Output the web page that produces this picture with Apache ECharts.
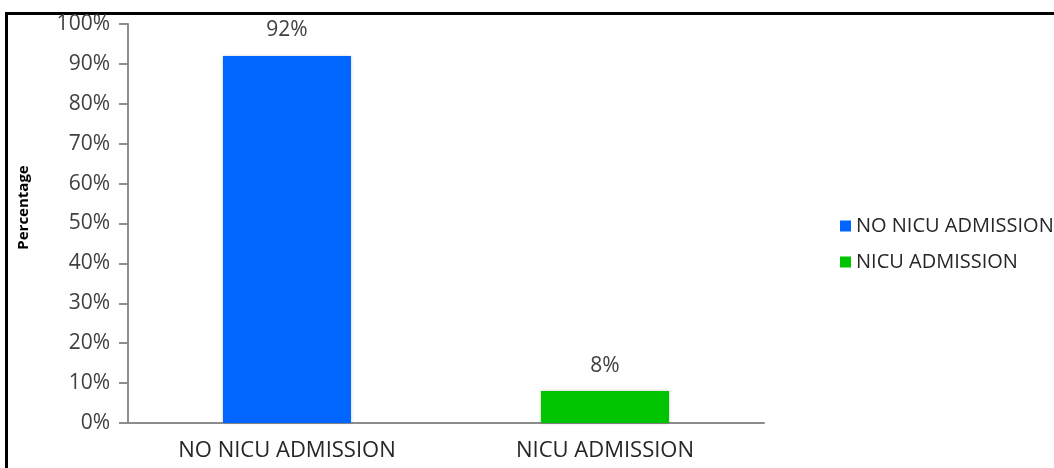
<!DOCTYPE html>
<html>
<head>
<meta charset="utf-8">
<script src="https://cdn.jsdelivr.net/npm/echarts@6/dist/echarts.min.js"></script>
<style>
  html, body { margin: 0; padding: 0; background: #fff; overflow: hidden; }
  #frame {
    position: absolute; left: 5px; top: 12px;
    width: 1100px; height: 500px;
    border: 3px solid #000; box-sizing: border-box;
  }
  #chart { position: absolute; left: 0; top: 0; width: 1054px; height: 468px; }
</style>
</head>
<body>
<div id="frame"></div>
<div id="chart"></div>
<script>
// data
const categories = ['NO NICU ADMISSION', 'NICU ADMISSION']
const seriesNames = ['NO NICU ADMISSION', 'NICU ADMISSION']
const values = [92, 8]
const colors = ['#0066ff', '#00c400']
const yTicks = [0, 10, 20, 30, 40, 50, 60, 70, 80, 90, 100]

const font = 'Open Sans'
const chart = echarts.init(document.getElementById('chart'))

// one series per category so the legend gets both colours
let series = seriesNames.map((name, i) => ({
  name: name,
  type: 'bar',
  barWidth: 128,
  barGap: '-100%',
  itemStyle: {
    color: colors[i],
    shadowColor: 'rgba(0,0,0,0.25)',
    shadowBlur: 3
  },
  label: {
    show: true,
    position: 'top',
    distance: 15,
    formatter: '{c}%',
    color: '#404040',
    fontFamily: font,
    fontSize: 21
  },
  data: categories.map((c, j) => (j === i ? values[i] : '-'))
}))

let option = {
  animation: false,
  color: colors,
  grid: {
    left: 128,
    top: 24,
    width: 636,
    height: 399
  },
  legend: {
    orient: 'vertical',
    left: 835,
    top: 211,
    itemWidth: 11,
    itemHeight: 11,
    itemGap: 16,
    icon: 'rect',
    data: seriesNames,
    textStyle: { color: '#262626', fontFamily: font, fontSize: 20 }
  },
  xAxis: {
    type: 'category',
    data: categories,
    axisLine: { lineStyle: { color: '#8c8c8c', width: 2 } },
    axisTick: { show: false },
    axisLabel: { color: '#262626', fontFamily: font, fontSize: 22, margin: 17 }
  },
  yAxis: {
    type: 'value',
    min: yTicks[0],
    max: yTicks[yTicks.length - 1],
    interval: 10,
    name: 'Percentage',
    nameLocation: 'middle',
    nameGap: 97,
    nameTextStyle: {
      color: '#000', fontFamily: font, fontSize: 15, fontWeight: 'bold',
      padding: [0, 0, 0, 32]
    },
    axisLine: { show: true, lineStyle: { color: '#8c8c8c', width: 2 } },
    axisTick: { show: true, length: 9, lineStyle: { color: '#8c8c8c', width: 2 } },
    splitLine: { show: false },
    axisLabel: { formatter: '{value}%', color: '#404040', fontFamily: font, fontSize: 21, margin: 18 }
  },
  series: series
}
chart.setOption(option)
</script>
</body>
</html>
